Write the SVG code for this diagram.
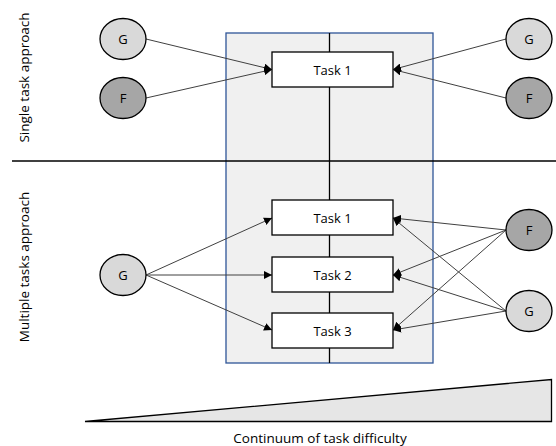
<svg xmlns="http://www.w3.org/2000/svg" width="556" height="446" viewBox="0 0 556 446">
<defs>
<marker id="ah" viewBox="0 0 10 10" refX="10" refY="5" markerWidth="8" markerHeight="8" markerUnits="userSpaceOnUse" orient="auto">
<path d="M0,0 L10,5 L0,10 z" fill="#000"/>
</marker>
<style>
text{font-family:"Open Sans","Liberation Sans",sans-serif;fill:#000;}
.lbl{font-size:13px;text-anchor:middle;dominant-baseline:central;}
.side{font-size:13.5px;text-anchor:middle;}
.task rect{fill:#fff;stroke:#000;stroke-width:1.3;}
.g ellipse{fill:#d9d9d9;stroke:#000;stroke-width:1.3;}
.f ellipse{fill:#a6a6a6;stroke:#000;stroke-width:1.3;}
.conn line{stroke:#404040;stroke-width:1;marker-end:url(#ah);}
</style>
</defs>
<rect width="556" height="446" fill="#fff"/>
<g id="panel">
<rect x="226" y="33" width="207" height="330" fill="#f0f0f0" stroke="#2f5597" stroke-width="1.3"/>
<line x1="329.5" y1="33" x2="329.5" y2="363" stroke="#000" stroke-width="1.3"/>
</g>
<g id="divider"><line x1="12" y1="161" x2="556" y2="161" stroke="#000" stroke-width="1.3"/></g>
<g id="side-labels">
<text class="side" transform="translate(29,77.5) rotate(-90)">Single task approach</text>
<text class="side" transform="translate(29,267) rotate(-90)">Multiple tasks approach</text>
</g>
<g id="connectors" class="conn">
<line x1="146" y1="39" x2="272" y2="69.5"/>
<line x1="146" y1="98" x2="272" y2="69.5"/>
<line x1="506" y1="39" x2="393" y2="69.5"/>
<line x1="506" y1="98" x2="393" y2="69.5"/>
<line x1="146" y1="275" x2="272" y2="218"/>
<line x1="146" y1="275" x2="272" y2="275"/>
<line x1="146" y1="275" x2="272" y2="330"/>
<line x1="506" y1="230" x2="393" y2="218"/>
<line x1="506" y1="230" x2="393" y2="275"/>
<line x1="506" y1="230" x2="393" y2="330"/>
<line x1="506" y1="311" x2="393" y2="218"/>
<line x1="506" y1="311" x2="393" y2="275"/>
<line x1="506" y1="311" x2="393" y2="330"/>
</g>
<g id="task-single" class="task"><rect x="272" y="52" width="121" height="35"/><text class="lbl" x="332.5" y="69.5">Task 1</text></g>
<g id="task1" class="task"><rect x="272" y="200" width="121" height="35"/><text class="lbl" x="332.5" y="217.5">Task 1</text></g>
<g id="task2" class="task"><rect x="272" y="257" width="121" height="35"/><text class="lbl" x="332.5" y="274.5">Task 2</text></g>
<g id="task3" class="task"><rect x="272" y="313" width="121" height="35"/><text class="lbl" x="332.5" y="330.5">Task 3</text></g>
<g id="g-top-left" class="g"><ellipse cx="123" cy="39" rx="23" ry="20.5"/><text class="lbl" x="123" y="39">G</text></g>
<g id="f-top-left" class="f"><ellipse cx="123" cy="98" rx="23" ry="20.5"/><text class="lbl" x="123" y="98">F</text></g>
<g id="g-top-right" class="g"><ellipse cx="529" cy="39" rx="23" ry="20.5"/><text class="lbl" x="529" y="39">G</text></g>
<g id="f-top-right" class="f"><ellipse cx="529" cy="98" rx="23" ry="20.5"/><text class="lbl" x="529" y="98">F</text></g>
<g id="g-bottom-left" class="g"><ellipse cx="123" cy="275" rx="23" ry="20.5"/><text class="lbl" x="123" y="275">G</text></g>
<g id="f-bottom-right" class="f"><ellipse cx="529" cy="230" rx="23" ry="20.5"/><text class="lbl" x="529" y="230">F</text></g>
<g id="g-bottom-right" class="g"><ellipse cx="529" cy="311" rx="23" ry="20.5"/><text class="lbl" x="529" y="311">G</text></g>
<g id="difficulty">
<polygon points="85,421.5 551.5,379.5 551.5,421.5" fill="#e6e6e6" stroke="#000" stroke-width="1.3" stroke-linejoin="miter"/>
<text x="320" y="443" font-size="13.5" text-anchor="middle">Continuum of task difficulty</text>
</g>
</svg>
